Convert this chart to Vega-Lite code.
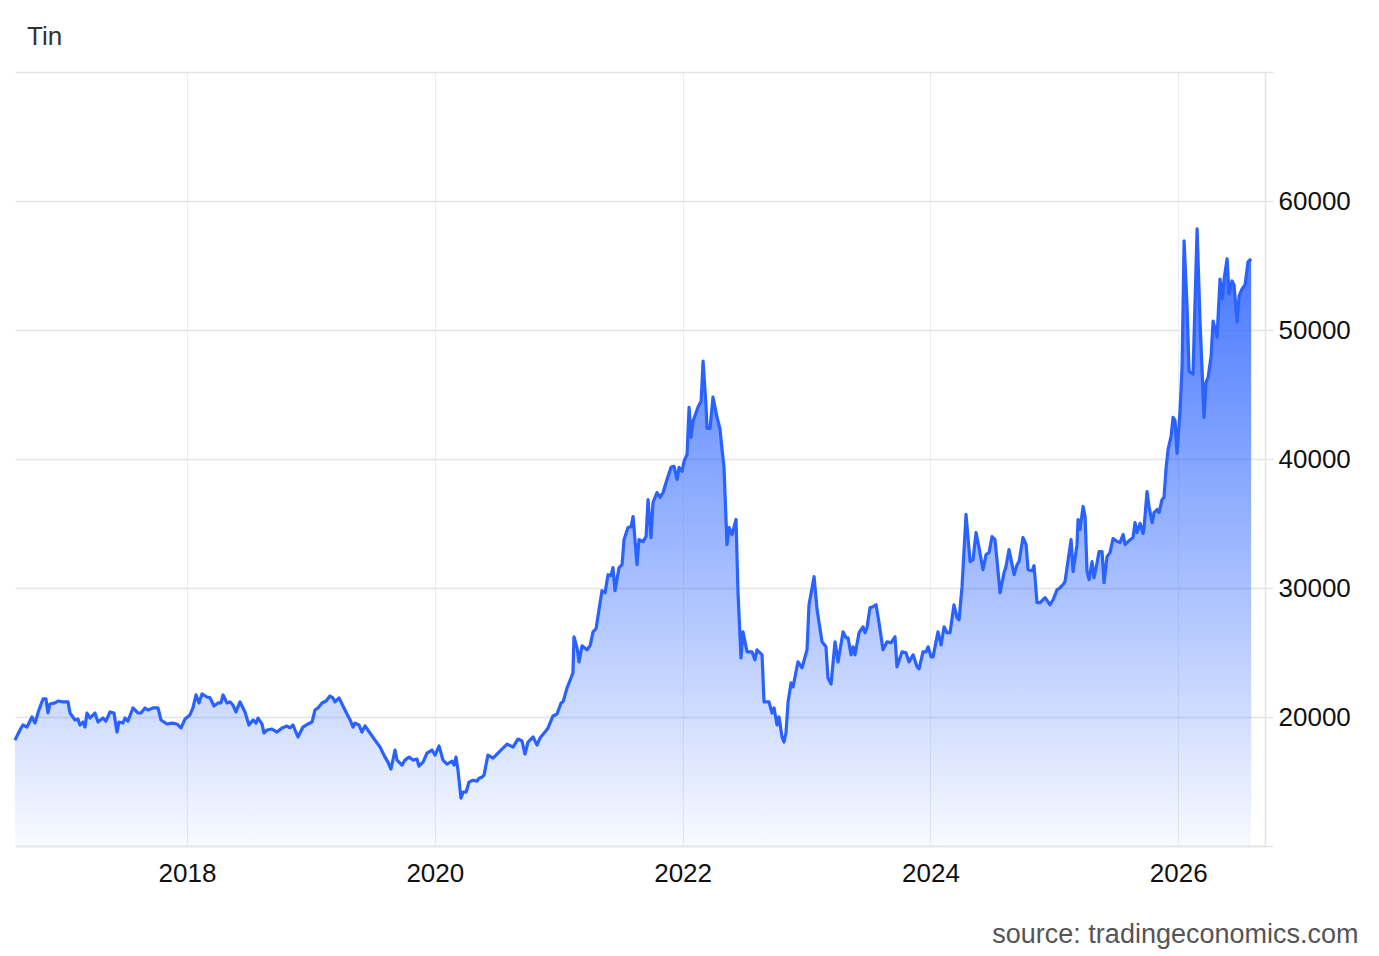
{
  "$schema": "https://vega.github.io/schema/vega-lite/v6.json",
  "description": "Tin price, weekly",
  "width": 1250,
  "height": 774,
  "autosize": "none",
  "padding": {"left": 15, "top": 72, "right": 114, "bottom": 110},
  "background": "white",
  "title": {
    "text": "Tin",
    "anchor": "start",
    "frame": "group",
    "fontSize": 26,
    "fontWeight": "normal",
    "color": "#333333",
    "baseline": "alphabetic",
    "dx": 12,
    "offset": 0
  },
  "data": {
    "values": [
      {"t": 2016.612, "v": 18210}, {"t": 2016.652, "v": 18990}, {"t": 2016.676, "v": 19380}, {"t": 2016.709, "v": 19220},
      {"t": 2016.749, "v": 20000}, {"t": 2016.773, "v": 19530}, {"t": 2016.805, "v": 20540}, {"t": 2016.838, "v": 21400},
      {"t": 2016.862, "v": 21400}, {"t": 2016.878, "v": 20310}, {"t": 2016.894, "v": 21010}, {"t": 2016.935, "v": 21090},
      {"t": 2016.959, "v": 21240}, {"t": 2016.999, "v": 21170}, {"t": 2017.040, "v": 21170}, {"t": 2017.056, "v": 20310},
      {"t": 2017.096, "v": 19770}, {"t": 2017.120, "v": 19840}, {"t": 2017.136, "v": 19380}, {"t": 2017.161, "v": 19610},
      {"t": 2017.177, "v": 19220}, {"t": 2017.193, "v": 20310}, {"t": 2017.217, "v": 19920}, {"t": 2017.257, "v": 20310},
      {"t": 2017.282, "v": 19610}, {"t": 2017.322, "v": 19920}, {"t": 2017.346, "v": 19690}, {"t": 2017.379, "v": 20390},
      {"t": 2017.411, "v": 20310}, {"t": 2017.435, "v": 18830}, {"t": 2017.451, "v": 19610}, {"t": 2017.483, "v": 19530},
      {"t": 2017.500, "v": 19920}, {"t": 2017.524, "v": 19690}, {"t": 2017.564, "v": 20700}, {"t": 2017.605, "v": 20310},
      {"t": 2017.629, "v": 20310}, {"t": 2017.661, "v": 20700}, {"t": 2017.685, "v": 20540}, {"t": 2017.726, "v": 20700},
      {"t": 2017.766, "v": 20700}, {"t": 2017.790, "v": 19770}, {"t": 2017.839, "v": 19460}, {"t": 2017.879, "v": 19530},
      {"t": 2017.919, "v": 19460}, {"t": 2017.952, "v": 19150}, {"t": 2017.984, "v": 19840}, {"t": 2018.024, "v": 20160},
      {"t": 2018.048, "v": 20700}, {"t": 2018.073, "v": 21710}, {"t": 2018.097, "v": 21090}, {"t": 2018.121, "v": 21790},
      {"t": 2018.161, "v": 21550}, {"t": 2018.186, "v": 21480}, {"t": 2018.218, "v": 20850}, {"t": 2018.250, "v": 21090},
      {"t": 2018.274, "v": 21090}, {"t": 2018.291, "v": 21710}, {"t": 2018.323, "v": 21090}, {"t": 2018.347, "v": 21170},
      {"t": 2018.371, "v": 20930}, {"t": 2018.395, "v": 20390}, {"t": 2018.428, "v": 21170}, {"t": 2018.468, "v": 20390},
      {"t": 2018.500, "v": 19380}, {"t": 2018.533, "v": 19770}, {"t": 2018.557, "v": 19530}, {"t": 2018.573, "v": 19920},
      {"t": 2018.605, "v": 19460}, {"t": 2018.621, "v": 18760}, {"t": 2018.646, "v": 18990}, {"t": 2018.686, "v": 19070},
      {"t": 2018.726, "v": 18830}, {"t": 2018.767, "v": 19150}, {"t": 2018.807, "v": 19300}, {"t": 2018.831, "v": 19150},
      {"t": 2018.856, "v": 19380}, {"t": 2018.872, "v": 18990}, {"t": 2018.896, "v": 18450}, {"t": 2018.936, "v": 19220},
      {"t": 2018.977, "v": 19460}, {"t": 2019.009, "v": 19610}, {"t": 2019.033, "v": 20540}, {"t": 2019.057, "v": 20700},
      {"t": 2019.090, "v": 21090}, {"t": 2019.122, "v": 21240}, {"t": 2019.154, "v": 21630}, {"t": 2019.178, "v": 21480},
      {"t": 2019.195, "v": 21170}, {"t": 2019.227, "v": 21480}, {"t": 2019.275, "v": 20540}, {"t": 2019.316, "v": 19770},
      {"t": 2019.340, "v": 19220}, {"t": 2019.356, "v": 19530}, {"t": 2019.388, "v": 19380}, {"t": 2019.412, "v": 18830},
      {"t": 2019.437, "v": 19300}, {"t": 2019.477, "v": 18760}, {"t": 2019.517, "v": 18210}, {"t": 2019.558, "v": 17670},
      {"t": 2019.598, "v": 16890}, {"t": 2019.622, "v": 16500}, {"t": 2019.646, "v": 15960}, {"t": 2019.679, "v": 17440},
      {"t": 2019.695, "v": 16660}, {"t": 2019.735, "v": 16270}, {"t": 2019.759, "v": 16660}, {"t": 2019.792, "v": 16890},
      {"t": 2019.824, "v": 16660}, {"t": 2019.856, "v": 16740}, {"t": 2019.872, "v": 16190}, {"t": 2019.905, "v": 16500},
      {"t": 2019.937, "v": 17200}, {"t": 2019.977, "v": 17440}, {"t": 2020.002, "v": 17050}, {"t": 2020.034, "v": 17750},
      {"t": 2020.066, "v": 16660}, {"t": 2020.098, "v": 16350}, {"t": 2020.139, "v": 16580}, {"t": 2020.155, "v": 16270},
      {"t": 2020.171, "v": 16890}, {"t": 2020.187, "v": 15880}, {"t": 2020.211, "v": 13710}, {"t": 2020.228, "v": 14170},
      {"t": 2020.252, "v": 14170}, {"t": 2020.276, "v": 14950}, {"t": 2020.308, "v": 15100}, {"t": 2020.341, "v": 15030},
      {"t": 2020.357, "v": 15260}, {"t": 2020.381, "v": 15340}, {"t": 2020.397, "v": 15490}, {"t": 2020.429, "v": 17050},
      {"t": 2020.470, "v": 16810}, {"t": 2020.510, "v": 17200}, {"t": 2020.550, "v": 17590}, {"t": 2020.583, "v": 17900},
      {"t": 2020.631, "v": 17670}, {"t": 2020.671, "v": 18290}, {"t": 2020.704, "v": 18140}, {"t": 2020.728, "v": 17130},
      {"t": 2020.752, "v": 18060}, {"t": 2020.793, "v": 18450}, {"t": 2020.825, "v": 17820}, {"t": 2020.849, "v": 18370},
      {"t": 2020.889, "v": 18830}, {"t": 2020.914, "v": 19150}, {"t": 2020.954, "v": 20080}, {"t": 2020.986, "v": 20230},
      {"t": 2021.019, "v": 21090}, {"t": 2021.035, "v": 21170}, {"t": 2021.067, "v": 22250}, {"t": 2021.115, "v": 23420},
      {"t": 2021.123, "v": 26220}, {"t": 2021.148, "v": 25360}, {"t": 2021.164, "v": 24270}, {"t": 2021.188, "v": 25520},
      {"t": 2021.228, "v": 25210}, {"t": 2021.253, "v": 25520}, {"t": 2021.277, "v": 26600}, {"t": 2021.301, "v": 26840},
      {"t": 2021.349, "v": 29790}, {"t": 2021.374, "v": 29630}, {"t": 2021.398, "v": 31030}, {"t": 2021.422, "v": 30960},
      {"t": 2021.438, "v": 31580}, {"t": 2021.454, "v": 29790}, {"t": 2021.487, "v": 31580}, {"t": 2021.511, "v": 31810},
      {"t": 2021.527, "v": 33750}, {"t": 2021.559, "v": 34690}, {"t": 2021.584, "v": 34760}, {"t": 2021.600, "v": 35540},
      {"t": 2021.632, "v": 31810}, {"t": 2021.648, "v": 33750}, {"t": 2021.680, "v": 33600}, {"t": 2021.705, "v": 33990},
      {"t": 2021.721, "v": 36860}, {"t": 2021.745, "v": 33910}, {"t": 2021.761, "v": 36630}, {"t": 2021.793, "v": 37400},
      {"t": 2021.818, "v": 37020}, {"t": 2021.842, "v": 37400}, {"t": 2021.874, "v": 38410}, {"t": 2021.906, "v": 39350},
      {"t": 2021.931, "v": 39430}, {"t": 2021.955, "v": 38410}, {"t": 2021.971, "v": 39350}, {"t": 2021.995, "v": 39040},
      {"t": 2022.011, "v": 39810}, {"t": 2022.036, "v": 40360}, {"t": 2022.052, "v": 44010}, {"t": 2022.068, "v": 41680},
      {"t": 2022.084, "v": 42920}, {"t": 2022.124, "v": 44010}, {"t": 2022.149, "v": 44480}, {"t": 2022.165, "v": 47580},
      {"t": 2022.189, "v": 44090}, {"t": 2022.197, "v": 42380}, {"t": 2022.221, "v": 42380}, {"t": 2022.245, "v": 44790},
      {"t": 2022.278, "v": 43230}, {"t": 2022.302, "v": 42300}, {"t": 2022.318, "v": 40750}, {"t": 2022.334, "v": 39350},
      {"t": 2022.358, "v": 33360}, {"t": 2022.375, "v": 34690}, {"t": 2022.399, "v": 34140}, {"t": 2022.431, "v": 35310},
      {"t": 2022.447, "v": 29630}, {"t": 2022.471, "v": 24580}, {"t": 2022.487, "v": 26600}, {"t": 2022.520, "v": 25050},
      {"t": 2022.560, "v": 25050}, {"t": 2022.584, "v": 24430}, {"t": 2022.600, "v": 25210}, {"t": 2022.641, "v": 24820},
      {"t": 2022.657, "v": 21170}, {"t": 2022.697, "v": 21170}, {"t": 2022.722, "v": 20310}, {"t": 2022.738, "v": 20700},
      {"t": 2022.762, "v": 19380}, {"t": 2022.778, "v": 20000}, {"t": 2022.802, "v": 18450}, {"t": 2022.818, "v": 18060},
      {"t": 2022.834, "v": 18760}, {"t": 2022.851, "v": 21170}, {"t": 2022.875, "v": 22640}, {"t": 2022.891, "v": 22330},
      {"t": 2022.931, "v": 24270}, {"t": 2022.964, "v": 23810}, {"t": 2023.004, "v": 25210}, {"t": 2023.020, "v": 28700},
      {"t": 2023.061, "v": 30880}, {"t": 2023.085, "v": 28310}, {"t": 2023.125, "v": 25830}, {"t": 2023.157, "v": 25440},
      {"t": 2023.173, "v": 23030}, {"t": 2023.198, "v": 22560}, {"t": 2023.230, "v": 25830}, {"t": 2023.254, "v": 24270},
      {"t": 2023.295, "v": 26600}, {"t": 2023.319, "v": 26140}, {"t": 2023.335, "v": 26140}, {"t": 2023.359, "v": 24820},
      {"t": 2023.375, "v": 25440}, {"t": 2023.391, "v": 24820}, {"t": 2023.424, "v": 26530}, {"t": 2023.456, "v": 26990},
      {"t": 2023.472, "v": 26530}, {"t": 2023.488, "v": 26920}, {"t": 2023.512, "v": 28470}, {"t": 2023.537, "v": 28550},
      {"t": 2023.561, "v": 28700}, {"t": 2023.585, "v": 27300}, {"t": 2023.617, "v": 25210}, {"t": 2023.650, "v": 25830},
      {"t": 2023.682, "v": 25750}, {"t": 2023.714, "v": 26220}, {"t": 2023.730, "v": 23890}, {"t": 2023.771, "v": 25050},
      {"t": 2023.803, "v": 24970}, {"t": 2023.827, "v": 24270}, {"t": 2023.860, "v": 24820}, {"t": 2023.892, "v": 23890},
      {"t": 2023.908, "v": 23730}, {"t": 2023.940, "v": 25050}, {"t": 2023.965, "v": 25050}, {"t": 2023.981, "v": 25440},
      {"t": 2024.005, "v": 24660}, {"t": 2024.021, "v": 24660}, {"t": 2024.061, "v": 26600}, {"t": 2024.086, "v": 25590},
      {"t": 2024.110, "v": 26990}, {"t": 2024.134, "v": 26530}, {"t": 2024.158, "v": 26530}, {"t": 2024.190, "v": 28700},
      {"t": 2024.215, "v": 27690}, {"t": 2024.231, "v": 27540}, {"t": 2024.255, "v": 30100}, {"t": 2024.287, "v": 35700},
      {"t": 2024.320, "v": 32040}, {"t": 2024.344, "v": 32200}, {"t": 2024.368, "v": 34300}, {"t": 2024.392, "v": 33130},
      {"t": 2024.424, "v": 31420}, {"t": 2024.449, "v": 32590}, {"t": 2024.473, "v": 32740}, {"t": 2024.497, "v": 33990},
      {"t": 2024.521, "v": 33750}, {"t": 2024.562, "v": 29630}, {"t": 2024.594, "v": 31190}, {"t": 2024.610, "v": 31660},
      {"t": 2024.634, "v": 32980}, {"t": 2024.675, "v": 31030}, {"t": 2024.699, "v": 31810}, {"t": 2024.715, "v": 32040},
      {"t": 2024.747, "v": 33910}, {"t": 2024.772, "v": 33360}, {"t": 2024.788, "v": 31420}, {"t": 2024.820, "v": 31340},
      {"t": 2024.836, "v": 31730}, {"t": 2024.860, "v": 28860}, {"t": 2024.885, "v": 28860}, {"t": 2024.925, "v": 29250},
      {"t": 2024.965, "v": 28700}, {"t": 2024.990, "v": 29090}, {"t": 2025.022, "v": 29870}, {"t": 2025.038, "v": 29950},
      {"t": 2025.070, "v": 30260}, {"t": 2025.086, "v": 30490}, {"t": 2025.135, "v": 33750}, {"t": 2025.151, "v": 31270},
      {"t": 2025.183, "v": 33360}, {"t": 2025.191, "v": 35310}, {"t": 2025.207, "v": 34530}, {"t": 2025.232, "v": 36320},
      {"t": 2025.248, "v": 35540}, {"t": 2025.264, "v": 31270}, {"t": 2025.280, "v": 30640}, {"t": 2025.304, "v": 32040},
      {"t": 2025.320, "v": 30800}, {"t": 2025.345, "v": 31970}, {"t": 2025.361, "v": 32820}, {"t": 2025.385, "v": 32820},
      {"t": 2025.401, "v": 30410}, {"t": 2025.425, "v": 32430}, {"t": 2025.449, "v": 32740}, {"t": 2025.474, "v": 33830},
      {"t": 2025.506, "v": 33600}, {"t": 2025.530, "v": 33520}, {"t": 2025.555, "v": 34140}, {"t": 2025.571, "v": 33360},
      {"t": 2025.595, "v": 33600}, {"t": 2025.635, "v": 33910}, {"t": 2025.651, "v": 35070}, {"t": 2025.667, "v": 34300},
      {"t": 2025.692, "v": 35000}, {"t": 2025.716, "v": 34220}, {"t": 2025.724, "v": 34690}, {"t": 2025.748, "v": 37480},
      {"t": 2025.764, "v": 36320}, {"t": 2025.789, "v": 35070}, {"t": 2025.805, "v": 35850}, {"t": 2025.829, "v": 36080},
      {"t": 2025.845, "v": 35850}, {"t": 2025.869, "v": 36860}, {"t": 2025.885, "v": 37020}, {"t": 2025.902, "v": 39350},
      {"t": 2025.918, "v": 40750}, {"t": 2025.942, "v": 41760}, {"t": 2025.958, "v": 43230}, {"t": 2025.974, "v": 43000},
      {"t": 2025.990, "v": 40440}, {"t": 2026.015, "v": 43850}, {"t": 2026.031, "v": 47200}, {"t": 2026.047, "v": 56910},
      {"t": 2026.071, "v": 51860}, {"t": 2026.087, "v": 46810}, {"t": 2026.119, "v": 46570}, {"t": 2026.152, "v": 57840},
      {"t": 2026.176, "v": 50610}, {"t": 2026.208, "v": 43230}, {"t": 2026.224, "v": 45950}, {"t": 2026.241, "v": 46340},
      {"t": 2026.265, "v": 47970}, {"t": 2026.281, "v": 50690}, {"t": 2026.313, "v": 49450}, {"t": 2026.337, "v": 53950},
      {"t": 2026.354, "v": 52400}, {"t": 2026.370, "v": 53950}, {"t": 2026.394, "v": 55510}, {"t": 2026.410, "v": 52790},
      {"t": 2026.434, "v": 53800}, {"t": 2026.450, "v": 53490}, {"t": 2026.475, "v": 50610}, {"t": 2026.491, "v": 52630},
      {"t": 2026.515, "v": 53180}, {"t": 2026.539, "v": 53490}, {"t": 2026.563, "v": 55280}, {"t": 2026.588, "v": 55510}
    ]
  },
  "encoding": {
    "x": {
      "field": "t",
      "type": "quantitative",
      "scale": {"domain": [2016.612, 2026.7], "nice": false, "zero": false},
      "axis": {
        "values": [2018, 2020, 2022, 2024, 2026],
        "format": "d",
        "grid": true,
        "gridColor": "#e8eef5",
        "gridWidth": 1,
        "domainColor": "#e4e4e4",
        "domainWidth": 1.5,
        "ticks": false,
        "labelFontSize": 26,
        "labelColor": "#111111",
        "labelPadding": 14,
        "title": "source: tradingeconomics.com",
        "titleFontSize": 27,
        "titleFontWeight": "normal",
        "titleColor": "#555555",
        "titleAlign": "right",
        "titleBaseline": "alphabetic",
        "titleX": 1343,
        "titleY": 96
      }
    },
    "y": {
      "field": "v",
      "type": "quantitative",
      "scale": {"domain": [10000, 70000], "nice": false, "zero": false},
      "axis": {
        "orient": "right",
        "values": [10000, 20000, 30000, 40000, 50000, 60000, 70000],
        "labelExpr": "datum.value == 10000 || datum.value == 70000 ? '' : datum.label",
        "format": "d",
        "grid": true,
        "gridColor": "#e4e4e4",
        "gridWidth": 1.5,
        "domainColor": "#e4e4e4",
        "domainWidth": 1.5,
        "tickColor": "#e4e4e4",
        "tickSize": 8,
        "tickWidth": 1.5,
        "labelFontSize": 26,
        "labelColor": "#111111",
        "labelPadding": 5,
        "title": null
      }
    }
  },
  "layer": [
    {
      "mark": {
        "type": "area",
        "color": {
          "gradient": "linear",
          "x1": 1, "y1": 1, "x2": 1, "y2": 0,
          "stops": [
            {"offset": 0, "color": "rgba(41, 98, 255, 0.03)"},
            {"offset": 1, "color": "rgba(41, 98, 255, 0.9)"}
          ]
        }
      },
      "encoding": {"y2": {"datum": 10000}}
    },
    {
      "mark": {"type": "line", "color": "#2962ff", "strokeWidth": 3.2, "strokeJoin": "round"}
    }
  ],
  "config": {
    "font": "Liberation Sans",
    "view": {"stroke": null}
  }
}
